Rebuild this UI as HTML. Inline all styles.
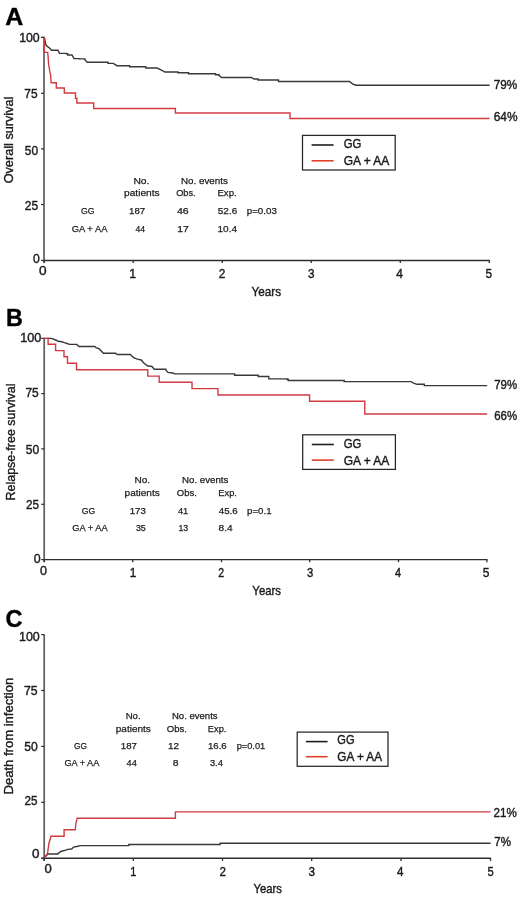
<!DOCTYPE html>
<html><head><meta charset="utf-8"><style>
html,body{margin:0;padding:0;background:#fff;}
svg{display:block;will-change:transform;}
text{font-family:"Liberation Sans",sans-serif;stroke:#222;paint-order:stroke;}
</style></head><body>
<svg width="520" height="899" viewBox="0 0 520 899">
<rect width="520" height="899" fill="#fff"/>
<line x1="44" y1="37.10" x2="44" y2="263.00" stroke="#5e5e5e" stroke-width="1.7"/>
<line x1="44" y1="260.4" x2="489.90" y2="260.4" stroke="#2e2e2e" stroke-width="1.45"/>
<line x1="41.00" y1="37.4" x2="44" y2="37.4" stroke="#2e2e2e" stroke-width="1.2"/>
<line x1="41.00" y1="93.3" x2="44" y2="93.3" stroke="#2e2e2e" stroke-width="1.2"/>
<line x1="41.00" y1="148.9" x2="44" y2="148.9" stroke="#2e2e2e" stroke-width="1.2"/>
<line x1="41.00" y1="204.5" x2="44" y2="204.5" stroke="#2e2e2e" stroke-width="1.2"/>
<line x1="41.00" y1="260.4" x2="44" y2="260.4" stroke="#2e2e2e" stroke-width="1.2"/>
<line x1="44" y1="260.4" x2="44" y2="263.00" stroke="#2e2e2e" stroke-width="1.3"/>
<line x1="133.2" y1="260.4" x2="133.2" y2="263.00" stroke="#2e2e2e" stroke-width="1.3"/>
<line x1="222.3" y1="260.4" x2="222.3" y2="263.00" stroke="#2e2e2e" stroke-width="1.3"/>
<line x1="311.2" y1="260.4" x2="311.2" y2="263.00" stroke="#2e2e2e" stroke-width="1.3"/>
<line x1="400.3" y1="260.4" x2="400.3" y2="263.00" stroke="#2e2e2e" stroke-width="1.3"/>
<line x1="489.3" y1="260.4" x2="489.3" y2="263.00" stroke="#2e2e2e" stroke-width="1.3"/>
<path d="M41.8,37.4 L44.3,37.4 L46.1,45.4 L47.6,46.6 L49.2,47.8 L51.6,50.3 L57.9,50.3 L59.5,53.4 L66.3,53.4 L66.3,53.7 L67.7,53.7 L67.7,55 L72,55 L74,58.6 L79.5,58.6 L79.5,58.9 L85,58.9 L85,59.9 L87.3,62.2 L106.8,62.2 L108,62.2 L108,63.4 L113.2,63.4 L117,65.7 L128,65.7 L129.6,65.7 L129.6,66.8 L144,66.8 L145.8,66.8 L145.8,68 L157,68 L160.5,69.6 L165,72 L177,72 L178,72 L178,72.8 L187,72.8 L188.5,72.8 L188.5,73.8 L213.5,73.8 L215.5,73.8 L215.5,74.8 L219,74.8 L219,75.4 L221.5,77.5 L251.5,77.5 L254,79 L257,79 L258,79 L258,80 L277,80 L278.5,80 L278.5,81.5 L349.5,81.5 L352.5,83.8 L356,85.2 L489.6,85.2" fill="none" stroke="#383838" stroke-width="1.4" stroke-linejoin="miter"/>
<path d="M44.4,37.4 L44.4,52.4 L47.7,52.4 L48.2,58 L48.6,64.4 L49.2,67.4 L49.8,71.7 L50.6,74.8 L51.1,82.8 L56.3,82.8 L56.3,88 L64.3,88 L64.3,93 L75.5,93 L75.5,98.2 L76.9,98.2 L76.9,103 L93.7,103 L93.7,108.5 L175.4,108.5 L175.4,113 L290,113 L290,118.5 L489.6,118.5" fill="none" stroke="#d23a42" stroke-width="1.4" stroke-linejoin="miter"/>
<line x1="44.2" y1="338.00" x2="44.2" y2="562.20" stroke="#5e5e5e" stroke-width="1.7"/>
<line x1="44.2" y1="559.6" x2="487.50" y2="559.6" stroke="#2e2e2e" stroke-width="1.45"/>
<line x1="41.20" y1="338.3" x2="44.2" y2="338.3" stroke="#2e2e2e" stroke-width="1.2"/>
<line x1="41.20" y1="393.6" x2="44.2" y2="393.6" stroke="#2e2e2e" stroke-width="1.2"/>
<line x1="41.20" y1="448.9" x2="44.2" y2="448.9" stroke="#2e2e2e" stroke-width="1.2"/>
<line x1="41.20" y1="504.3" x2="44.2" y2="504.3" stroke="#2e2e2e" stroke-width="1.2"/>
<line x1="41.20" y1="559.6" x2="44.2" y2="559.6" stroke="#2e2e2e" stroke-width="1.2"/>
<line x1="44.2" y1="559.6" x2="44.2" y2="562.20" stroke="#2e2e2e" stroke-width="1.3"/>
<line x1="132.7" y1="559.6" x2="132.7" y2="562.20" stroke="#2e2e2e" stroke-width="1.3"/>
<line x1="221.5" y1="559.6" x2="221.5" y2="562.20" stroke="#2e2e2e" stroke-width="1.3"/>
<line x1="309.7" y1="559.6" x2="309.7" y2="562.20" stroke="#2e2e2e" stroke-width="1.3"/>
<line x1="398.5" y1="559.6" x2="398.5" y2="562.20" stroke="#2e2e2e" stroke-width="1.3"/>
<line x1="486.9" y1="559.6" x2="486.9" y2="562.20" stroke="#2e2e2e" stroke-width="1.3"/>
<path d="M44.2,338.4 L51.5,338.4 L55.8,340 L58.4,341.3 L61.8,341.8 L64.4,342.7 L67,343.5 L69.6,344.4 L76.8,344.4 L76.8,344.6 L79.1,346.5 L94.7,346.5 L96.4,347.8 L99,348.7 L103.4,353.2 L115.5,353.2 L115.5,353.4 L117.2,354.5 L130.5,354.5 L130.5,354.7 L133.5,357.6 L137.3,359.2 L141.2,360 L143.5,362.7 L147.3,365.8 L152,366.5 L154.2,369.3 L165.8,369.3 L165.8,370 L168,372.4 L172.7,373 L175,373.9 L233.5,373.9 L234.6,373.9 L234.6,375.2 L256.8,375.2 L258.2,375.2 L258.2,376.5 L268.3,376.5 L268.8,376.5 L268.8,378.9 L286.8,378.9 L286.8,379.2 L288.2,379.2 L288.2,380.5 L343.2,380.5 L344.2,380.5 L344.2,381.6 L411.2,381.6 L413.5,383.2 L417,384.3 L422.7,384.3 L424.3,384.3 L424.3,385.6 L487.2,385.6" fill="none" stroke="#383838" stroke-width="1.4" stroke-linejoin="miter"/>
<path d="M44.2,338.4 L48.1,338.4 L48.1,344.2 L55.6,344.2 L55.6,350.6 L64,350.6 L64,356.8 L67.5,356.8 L67.5,363.2 L76.5,363.2 L76.5,369.8 L147.8,369.8 L147.8,376.1 L159.2,376.1 L159.2,382.3 L192,382.3 L192,388.6 L218,388.6 L218,395 L309.6,395 L309.6,401.3 L364.8,401.3 L364.8,414 L487.2,414" fill="none" stroke="#d23a42" stroke-width="1.4" stroke-linejoin="miter"/>
<line x1="44.2" y1="634.30" x2="44.2" y2="860.90" stroke="#5e5e5e" stroke-width="1.7"/>
<line x1="44.2" y1="858.3" x2="491.10" y2="858.3" stroke="#2e2e2e" stroke-width="1.45"/>
<line x1="41.20" y1="634.6" x2="44.2" y2="634.6" stroke="#2e2e2e" stroke-width="1.2"/>
<line x1="41.20" y1="690.5" x2="44.2" y2="690.5" stroke="#2e2e2e" stroke-width="1.2"/>
<line x1="41.20" y1="746.4" x2="44.2" y2="746.4" stroke="#2e2e2e" stroke-width="1.2"/>
<line x1="41.20" y1="802.3" x2="44.2" y2="802.3" stroke="#2e2e2e" stroke-width="1.2"/>
<line x1="41.20" y1="858.2" x2="44.2" y2="858.2" stroke="#2e2e2e" stroke-width="1.2"/>
<line x1="44.2" y1="858.3" x2="44.2" y2="860.90" stroke="#2e2e2e" stroke-width="1.3"/>
<line x1="133.3" y1="858.3" x2="133.3" y2="860.90" stroke="#2e2e2e" stroke-width="1.3"/>
<line x1="222.5" y1="858.3" x2="222.5" y2="860.90" stroke="#2e2e2e" stroke-width="1.3"/>
<line x1="311.7" y1="858.3" x2="311.7" y2="860.90" stroke="#2e2e2e" stroke-width="1.3"/>
<line x1="401.0" y1="858.3" x2="401.0" y2="860.90" stroke="#2e2e2e" stroke-width="1.3"/>
<line x1="490.5" y1="858.3" x2="490.5" y2="860.90" stroke="#2e2e2e" stroke-width="1.3"/>
<path d="M44.4,857.6 L48,854 L57.9,854 L57.9,853.6 L61.3,851.2 L66,850.2 L67.7,849.4 L71.7,849 L73.5,847.1 L78,846.3 L79.8,845.6 L128.8,845.6 L128.8,844.5 L220.2,844.5 L220.2,843.2 L490.6,843.2" fill="none" stroke="#383838" stroke-width="1.4" stroke-linejoin="miter"/>
<path d="M44.4,857.6 L47.5,853.5 L49,843 L51,836.2 L64.1,836.2 L64.1,829.8 L75.3,829.8 L75.8,824 L77.2,818.2 L175.4,818.2 L175.4,811.9 L490.6,811.9" fill="none" stroke="#d23a42" stroke-width="1.4" stroke-linejoin="miter"/>
<line x1="41" y1="858.2" x2="44.2" y2="858.2" stroke="#2e2e2e" stroke-width="1.2"/>
<rect x="302.5" y="135.4" width="92.70" height="34.60" fill="none" stroke="#262626" stroke-width="1.25"/>
<line x1="311.6" y1="145.0" x2="333.6" y2="145.0" stroke="#1e1e1e" stroke-width="1.6"/>
<line x1="311.6" y1="160.8" x2="333.6" y2="160.8" stroke="#e0402c" stroke-width="1.6"/>
<rect x="302.7" y="434.8" width="92.70" height="34.60" fill="none" stroke="#262626" stroke-width="1.25"/>
<line x1="311.8" y1="444.5" x2="333.8" y2="444.5" stroke="#1e1e1e" stroke-width="1.6"/>
<line x1="311.8" y1="460.1" x2="333.8" y2="460.1" stroke="#e0402c" stroke-width="1.6"/>
<rect x="297.2" y="732.1" width="90.80" height="34.20" fill="none" stroke="#262626" stroke-width="1.25"/>
<line x1="305.9" y1="741.6" x2="327.6" y2="741.6" stroke="#1e1e1e" stroke-width="1.6"/>
<line x1="305.9" y1="756.7" x2="327.6" y2="756.7" stroke="#e0402c" stroke-width="1.6"/>
<text x="5.23" y="25.30" font-size="24.60" font-weight="bold" stroke-width="0.45" textLength="18.00" lengthAdjust="spacingAndGlyphs" fill="#000">A</text>
<text x="5.94" y="326.00" font-size="24.60" font-weight="bold" stroke-width="0.45" textLength="16.81" lengthAdjust="spacingAndGlyphs" fill="#000">B</text>
<text x="5.61" y="627.20" font-size="24.60" font-weight="bold" stroke-width="0.45" textLength="16.98" lengthAdjust="spacingAndGlyphs" fill="#000">C</text>
<text x="19.13" y="41.86" font-size="12.60" stroke-width="0.40" textLength="20.56" lengthAdjust="spacingAndGlyphs" fill="#1a1a1a">100</text>
<text x="24.25" y="97.81" font-size="12.60" stroke-width="0.40" textLength="13.30" lengthAdjust="spacingAndGlyphs" fill="#1a1a1a">75</text>
<text x="24.87" y="154.81" font-size="12.60" stroke-width="0.40" textLength="13.28" lengthAdjust="spacingAndGlyphs" fill="#1a1a1a">50</text>
<text x="24.75" y="209.56" font-size="12.60" stroke-width="0.40" textLength="13.41" lengthAdjust="spacingAndGlyphs" fill="#1a1a1a">25</text>
<text x="32.96" y="263.41" font-size="12.60" stroke-width="0.40" textLength="6.79" lengthAdjust="spacingAndGlyphs" fill="#1a1a1a">0</text>
<text x="20.20" y="342.01" font-size="12.60" stroke-width="0.40" textLength="21.10" lengthAdjust="spacingAndGlyphs" fill="#1a1a1a">100</text>
<text x="25.45" y="397.31" font-size="12.60" stroke-width="0.40" textLength="13.30" lengthAdjust="spacingAndGlyphs" fill="#1a1a1a">75</text>
<text x="25.87" y="454.21" font-size="12.60" stroke-width="0.40" textLength="13.39" lengthAdjust="spacingAndGlyphs" fill="#1a1a1a">50</text>
<text x="25.96" y="508.51" font-size="12.60" stroke-width="0.40" textLength="13.09" lengthAdjust="spacingAndGlyphs" fill="#1a1a1a">25</text>
<text x="33.75" y="562.61" font-size="12.60" stroke-width="0.40" textLength="6.91" lengthAdjust="spacingAndGlyphs" fill="#1a1a1a">0</text>
<text x="19.02" y="640.51" font-size="12.60" stroke-width="0.40" textLength="20.78" lengthAdjust="spacingAndGlyphs" fill="#1a1a1a">100</text>
<text x="23.94" y="695.41" font-size="12.60" stroke-width="0.40" textLength="13.63" lengthAdjust="spacingAndGlyphs" fill="#1a1a1a">75</text>
<text x="24.36" y="751.41" font-size="12.60" stroke-width="0.40" textLength="13.50" lengthAdjust="spacingAndGlyphs" fill="#1a1a1a">50</text>
<text x="24.57" y="805.06" font-size="12.60" stroke-width="0.40" textLength="12.98" lengthAdjust="spacingAndGlyphs" fill="#1a1a1a">25</text>
<text x="31.91" y="857.61" font-size="12.60" stroke-width="0.40" textLength="7.49" lengthAdjust="spacingAndGlyphs" fill="#1a1a1a">0</text>
<text x="38.90" y="275.20" font-size="12.60" stroke-width="0.40" textLength="7.61" lengthAdjust="spacingAndGlyphs" fill="#1a1a1a">0</text>
<text x="129.13" y="278.00" font-size="12.60" stroke-width="0.40" textLength="6.86" lengthAdjust="spacingAndGlyphs" fill="#1a1a1a">1</text>
<text x="218.76" y="278.00" font-size="12.60" stroke-width="0.40" textLength="6.60" lengthAdjust="spacingAndGlyphs" fill="#1a1a1a">2</text>
<text x="307.88" y="278.00" font-size="12.60" stroke-width="0.40" textLength="6.51" lengthAdjust="spacingAndGlyphs" fill="#1a1a1a">3</text>
<text x="396.15" y="278.00" font-size="12.60" stroke-width="0.40" textLength="6.67" lengthAdjust="spacingAndGlyphs" fill="#1a1a1a">4</text>
<text x="485.58" y="278.00" font-size="12.60" stroke-width="0.40" textLength="6.56" lengthAdjust="spacingAndGlyphs" fill="#1a1a1a">5</text>
<text x="40.14" y="574.60" font-size="12.60" stroke-width="0.40" textLength="7.03" lengthAdjust="spacingAndGlyphs" fill="#1a1a1a">0</text>
<text x="129.66" y="577.00" font-size="12.60" stroke-width="0.40" textLength="6.60" lengthAdjust="spacingAndGlyphs" fill="#1a1a1a">1</text>
<text x="218.32" y="577.00" font-size="12.60" stroke-width="0.40" textLength="5.87" lengthAdjust="spacingAndGlyphs" fill="#1a1a1a">2</text>
<text x="306.90" y="577.00" font-size="12.60" stroke-width="0.40" textLength="6.27" lengthAdjust="spacingAndGlyphs" fill="#1a1a1a">3</text>
<text x="394.88" y="577.00" font-size="12.60" stroke-width="0.40" textLength="6.12" lengthAdjust="spacingAndGlyphs" fill="#1a1a1a">4</text>
<text x="482.77" y="577.00" font-size="12.60" stroke-width="0.40" textLength="6.67" lengthAdjust="spacingAndGlyphs" fill="#1a1a1a">5</text>
<text x="44.63" y="872.80" font-size="12.60" stroke-width="0.40" textLength="7.26" lengthAdjust="spacingAndGlyphs" fill="#1a1a1a">0</text>
<text x="130.13" y="876.00" font-size="12.60" stroke-width="0.40" textLength="6.08" lengthAdjust="spacingAndGlyphs" fill="#1a1a1a">1</text>
<text x="219.47" y="876.00" font-size="12.60" stroke-width="0.40" textLength="6.48" lengthAdjust="spacingAndGlyphs" fill="#1a1a1a">2</text>
<text x="308.58" y="876.00" font-size="12.60" stroke-width="0.40" textLength="6.51" lengthAdjust="spacingAndGlyphs" fill="#1a1a1a">3</text>
<text x="397.06" y="876.00" font-size="12.60" stroke-width="0.40" textLength="6.45" lengthAdjust="spacingAndGlyphs" fill="#1a1a1a">4</text>
<text x="487.50" y="876.00" font-size="12.60" stroke-width="0.40" textLength="6.21" lengthAdjust="spacingAndGlyphs" fill="#1a1a1a">5</text>
<text x="251.56" y="295.50" font-size="13.00" stroke-width="0.40" textLength="29.61" lengthAdjust="spacingAndGlyphs" fill="#1a1a1a">Years</text>
<text x="252.37" y="594.90" font-size="13.00" stroke-width="0.40" textLength="28.59" lengthAdjust="spacingAndGlyphs" fill="#1a1a1a">Years</text>
<text x="253.57" y="893.10" font-size="13.00" stroke-width="0.40" textLength="28.38" lengthAdjust="spacingAndGlyphs" fill="#1a1a1a">Years</text>
<text x="493.76" y="88.70" font-size="12.50" stroke-width="0.40" textLength="23.52" lengthAdjust="spacingAndGlyphs" fill="#1a1a1a">79%</text>
<text x="493.75" y="120.80" font-size="12.50" stroke-width="0.40" textLength="23.83" lengthAdjust="spacingAndGlyphs" fill="#1a1a1a">64%</text>
<text x="494.28" y="388.80" font-size="12.50" stroke-width="0.40" textLength="22.89" lengthAdjust="spacingAndGlyphs" fill="#1a1a1a">79%</text>
<text x="494.28" y="420.40" font-size="12.50" stroke-width="0.40" textLength="22.89" lengthAdjust="spacingAndGlyphs" fill="#1a1a1a">66%</text>
<text x="493.47" y="817.00" font-size="12.50" stroke-width="0.40" textLength="23.31" lengthAdjust="spacingAndGlyphs" fill="#1a1a1a">21%</text>
<text x="494.27" y="845.60" font-size="12.50" stroke-width="0.40" textLength="16.68" lengthAdjust="spacingAndGlyphs" fill="#1a1a1a">7%</text>
<text x="343.68" y="147.90" font-size="12.20" stroke-width="0.39" textLength="17.67" lengthAdjust="spacingAndGlyphs" fill="#1a1a1a">GG</text>
<text x="343.65" y="165.10" font-size="12.20" stroke-width="0.39" textLength="45.74" lengthAdjust="spacingAndGlyphs" fill="#1a1a1a">GA + AA</text>
<text x="343.68" y="447.60" font-size="12.20" stroke-width="0.39" textLength="17.67" lengthAdjust="spacingAndGlyphs" fill="#1a1a1a">GG</text>
<text x="343.65" y="464.70" font-size="12.20" stroke-width="0.39" textLength="45.74" lengthAdjust="spacingAndGlyphs" fill="#1a1a1a">GA + AA</text>
<text x="337.30" y="744.00" font-size="12.20" stroke-width="0.39" textLength="17.24" lengthAdjust="spacingAndGlyphs" fill="#1a1a1a">GG</text>
<text x="337.26" y="761.30" font-size="12.20" stroke-width="0.39" textLength="44.83" lengthAdjust="spacingAndGlyphs" fill="#1a1a1a">GA + AA</text>
<text x="133.42" y="183.80" font-size="9.90" stroke-width="0.25" textLength="16.07" lengthAdjust="spacingAndGlyphs" fill="#1a1a1a">No.</text>
<text x="123.99" y="196.30" font-size="9.90" stroke-width="0.25" textLength="35.69" lengthAdjust="spacingAndGlyphs" fill="#1a1a1a">patients</text>
<text x="180.97" y="183.80" font-size="9.90" stroke-width="0.25" textLength="46.83" lengthAdjust="spacingAndGlyphs" fill="#1a1a1a">No. events</text>
<text x="176.14" y="196.30" font-size="9.90" stroke-width="0.25" textLength="19.46" lengthAdjust="spacingAndGlyphs" fill="#1a1a1a">Obs.</text>
<text x="217.48" y="196.30" font-size="9.90" stroke-width="0.25" textLength="19.14" lengthAdjust="spacingAndGlyphs" fill="#1a1a1a">Exp.</text>
<text x="81.01" y="214.00" font-size="9.90" stroke-width="0.25" textLength="13.55" lengthAdjust="spacingAndGlyphs" fill="#1a1a1a">GG</text>
<text x="129.12" y="214.00" font-size="9.90" stroke-width="0.25" textLength="16.14" lengthAdjust="spacingAndGlyphs" fill="#1a1a1a">187</text>
<text x="176.99" y="214.00" font-size="9.90" stroke-width="0.25" textLength="11.77" lengthAdjust="spacingAndGlyphs" fill="#1a1a1a">46</text>
<text x="217.85" y="214.00" font-size="9.90" stroke-width="0.25" textLength="19.36" lengthAdjust="spacingAndGlyphs" fill="#1a1a1a">52.6</text>
<text x="246.71" y="214.00" font-size="9.90" stroke-width="0.25" textLength="30.19" lengthAdjust="spacingAndGlyphs" fill="#1a1a1a">p=0.03</text>
<text x="71.68" y="231.50" font-size="9.90" stroke-width="0.25" textLength="35.80" lengthAdjust="spacingAndGlyphs" fill="#1a1a1a">GA + AA</text>
<text x="135.43" y="231.50" font-size="9.90" stroke-width="0.25" textLength="9.59" lengthAdjust="spacingAndGlyphs" fill="#1a1a1a">44</text>
<text x="177.17" y="231.50" font-size="9.90" stroke-width="0.25" textLength="11.63" lengthAdjust="spacingAndGlyphs" fill="#1a1a1a">17</text>
<text x="217.50" y="231.50" font-size="9.90" stroke-width="0.25" textLength="19.57" lengthAdjust="spacingAndGlyphs" fill="#1a1a1a">10.4</text>
<text x="134.45" y="483.00" font-size="9.90" stroke-width="0.25" textLength="15.62" lengthAdjust="spacingAndGlyphs" fill="#1a1a1a">No.</text>
<text x="124.60" y="496.20" font-size="9.90" stroke-width="0.25" textLength="35.08" lengthAdjust="spacingAndGlyphs" fill="#1a1a1a">patients</text>
<text x="181.97" y="483.00" font-size="9.90" stroke-width="0.25" textLength="46.42" lengthAdjust="spacingAndGlyphs" fill="#1a1a1a">No. events</text>
<text x="176.82" y="496.20" font-size="9.90" stroke-width="0.25" textLength="20.10" lengthAdjust="spacingAndGlyphs" fill="#1a1a1a">Obs.</text>
<text x="218.31" y="496.20" font-size="9.90" stroke-width="0.25" textLength="18.59" lengthAdjust="spacingAndGlyphs" fill="#1a1a1a">Exp.</text>
<text x="81.81" y="513.50" font-size="9.90" stroke-width="0.25" textLength="13.55" lengthAdjust="spacingAndGlyphs" fill="#1a1a1a">GG</text>
<text x="129.73" y="513.50" font-size="9.90" stroke-width="0.25" textLength="16.09" lengthAdjust="spacingAndGlyphs" fill="#1a1a1a">173</text>
<text x="178.02" y="513.50" font-size="9.90" stroke-width="0.25" textLength="10.21" lengthAdjust="spacingAndGlyphs" fill="#1a1a1a">41</text>
<text x="218.81" y="513.50" font-size="9.90" stroke-width="0.25" textLength="18.89" lengthAdjust="spacingAndGlyphs" fill="#1a1a1a">45.6</text>
<text x="247.12" y="513.50" font-size="9.90" stroke-width="0.25" textLength="24.41" lengthAdjust="spacingAndGlyphs" fill="#1a1a1a">p=0.1</text>
<text x="72.28" y="531.25" font-size="9.90" stroke-width="0.25" textLength="35.50" lengthAdjust="spacingAndGlyphs" fill="#1a1a1a">GA + AA</text>
<text x="135.90" y="531.25" font-size="9.90" stroke-width="0.25" textLength="9.83" lengthAdjust="spacingAndGlyphs" fill="#1a1a1a">35</text>
<text x="178.39" y="531.25" font-size="9.90" stroke-width="0.25" textLength="9.78" lengthAdjust="spacingAndGlyphs" fill="#1a1a1a">13</text>
<text x="218.60" y="531.25" font-size="9.90" stroke-width="0.25" textLength="13.95" lengthAdjust="spacingAndGlyphs" fill="#1a1a1a">8.4</text>
<text x="125.68" y="718.80" font-size="9.90" stroke-width="0.25" textLength="14.94" lengthAdjust="spacingAndGlyphs" fill="#1a1a1a">No.</text>
<text x="115.80" y="731.70" font-size="9.90" stroke-width="0.25" textLength="35.08" lengthAdjust="spacingAndGlyphs" fill="#1a1a1a">patients</text>
<text x="171.99" y="718.80" font-size="9.90" stroke-width="0.25" textLength="45.60" lengthAdjust="spacingAndGlyphs" fill="#1a1a1a">No. events</text>
<text x="166.82" y="731.70" font-size="9.90" stroke-width="0.25" textLength="20.10" lengthAdjust="spacingAndGlyphs" fill="#1a1a1a">Obs.</text>
<text x="207.81" y="731.70" font-size="9.90" stroke-width="0.25" textLength="18.59" lengthAdjust="spacingAndGlyphs" fill="#1a1a1a">Exp.</text>
<text x="74.03" y="748.90" font-size="9.90" stroke-width="0.25" textLength="13.01" lengthAdjust="spacingAndGlyphs" fill="#1a1a1a">GG</text>
<text x="120.82" y="748.90" font-size="9.90" stroke-width="0.25" textLength="16.14" lengthAdjust="spacingAndGlyphs" fill="#1a1a1a">187</text>
<text x="168.00" y="748.90" font-size="9.90" stroke-width="0.25" textLength="11.07" lengthAdjust="spacingAndGlyphs" fill="#1a1a1a">12</text>
<text x="208.03" y="748.90" font-size="9.90" stroke-width="0.25" textLength="18.66" lengthAdjust="spacingAndGlyphs" fill="#1a1a1a">16.6</text>
<text x="236.65" y="748.90" font-size="9.90" stroke-width="0.25" textLength="28.58" lengthAdjust="spacingAndGlyphs" fill="#1a1a1a">p=0.01</text>
<text x="64.39" y="766.10" font-size="9.90" stroke-width="0.25" textLength="34.99" lengthAdjust="spacingAndGlyphs" fill="#1a1a1a">GA + AA</text>
<text x="126.52" y="766.10" font-size="9.90" stroke-width="0.25" textLength="10.23" lengthAdjust="spacingAndGlyphs" fill="#1a1a1a">44</text>
<text x="172.88" y="766.10" font-size="9.90" stroke-width="0.25" textLength="5.80" lengthAdjust="spacingAndGlyphs" fill="#1a1a1a">8</text>
<text x="209.88" y="766.10" font-size="9.90" stroke-width="0.25" textLength="12.95" lengthAdjust="spacingAndGlyphs" fill="#1a1a1a">3.4</text>
<text transform="translate(13.30,183.37) rotate(-90)" x="0" y="0" font-size="13.40" stroke-width="0.38" textLength="86.80" lengthAdjust="spacingAndGlyphs" fill="#1a1a1a">Overall survival</text>
<text transform="translate(14.50,500.50) rotate(-90)" x="0" y="0" font-size="13.40" stroke-width="0.38" textLength="117.04" lengthAdjust="spacingAndGlyphs" fill="#1a1a1a">Relapse-free survival</text>
<text transform="translate(13.10,794.44) rotate(-90)" x="0" y="0" font-size="13.20" stroke-width="0.38" textLength="116.68" lengthAdjust="spacingAndGlyphs" fill="#1a1a1a">Death from infection</text>
</svg></body></html>
